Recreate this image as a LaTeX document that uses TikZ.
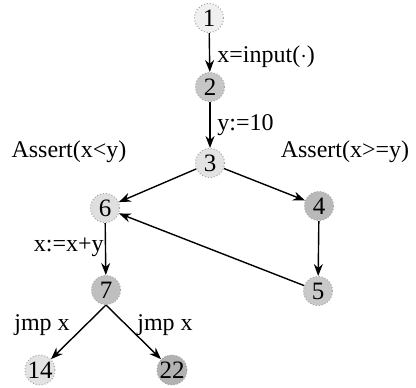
\documentclass[tikz,border=0pt]{standalone}
\usepackage{fontspec}
\setmainfont{Liberation Serif}
\usetikzlibrary{arrows.meta}
\begin{document}
\begin{tikzpicture}[x=0.5pt,y=-0.5pt,
  vtx/.style={circle,draw=gray!70,densely dotted,line width=0.5pt,minimum size=14.5pt,inner sep=0pt,font=\fontsize{12.5}{12.5}\selectfont},
  edge/.style={-{Stealth[length=6pt,width=4.5pt]},line width=0.7pt,black},
  lbl/.style={font=\fontsize{12}{12}\selectfont,inner sep=0pt}]
\useasboundingbox (0,0) rectangle (416,387);
\node[vtx,fill=gray!12] (n1) at (209,18) {1};
\node[vtx,fill=gray!45] (n2) at (210,87) {2};
\node[vtx,fill=gray!22] (n3) at (210,163) {3};
\node[vtx,fill=gray!25] (n6) at (105,208) {6};
\node[vtx,fill=gray!55] (n4) at (319,206) {4};
\node[vtx,fill=gray!42] (n5) at (318,291) {5};
\node[vtx,fill=gray!50] (n7) at (106,290) {7};
\node[vtx,fill=gray!22] (n14) at (40,370) {14};
\node[vtx,fill=gray!60] (n22) at (172,370) {22};
\draw[edge] (n1) -- (n2);
\draw[edge] (n2) -- (n3);
\draw[edge] (n3) -- (n6);
\draw[edge] (n3) -- (n4);
\draw[edge] (n4) -- (n5);
\draw[edge] (n5) -- (n6);
\draw[edge] (n6) -- (n7);
\draw[edge] (n7.south) -- (n14);
\draw[edge] (n7.south) -- (n22);
\node[lbl,anchor=west] (l1) at (217,57) {x=input($\cdot$)};
\node[lbl,anchor=west] (l2) at (217,125) {y:=10};
\node[lbl] (l3) at (69,152) {Assert(x<y)};
\node[lbl] (l4) at (345,152) {Assert(x>=y)};
\node[lbl,anchor=east] (l5) at (104,247) {x:=x+y};
\node[lbl] (l6) at (42,325) {jmp x};
\node[lbl] (l7) at (165,325) {jmp x};
\end{tikzpicture}
\end{document}
